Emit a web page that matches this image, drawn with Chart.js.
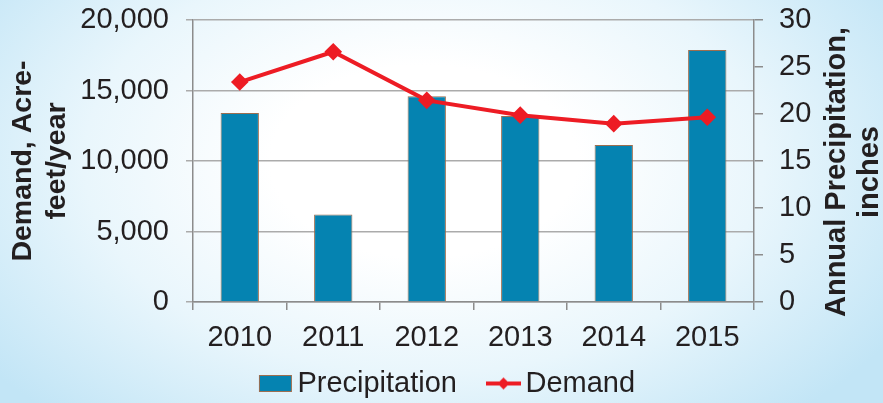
<!DOCTYPE html>
<html>
<head>
<meta charset="utf-8">
<script src="https://cdn.jsdelivr.net/npm/chart.js@4.4.1/dist/chart.umd.min.js"></script>
<style>
  html, body { margin: 0; padding: 0; }
  body {
    width: 883px; height: 403px; overflow: hidden;
    background: radial-gradient(ellipse 62% 85% at 48% 40%, #ffffff 0%, #ffffff 28%, #e9f6fc 62%, #c2e5f6 100%);
  }
  canvas { display: block; }
</style>
</head>
<body>
<canvas id="chart" width="883" height="403"></canvas>
<script>
const years = ['2010', '2011', '2012', '2013', '2014', '2015']
const precipitation = [20.1, 9.3, 21.9, 19.8, 16.7, 26.8]
const demand = [15600, 17750, 14300, 13250, 12650, 13100]

const leftTitle = ['Demand, Acre-', 'feet/year']
const rightTitle = ['Annual Precipitation,', 'inches']

const FONT = '"Liberation Sans", Arial, sans-serif'
const TEXT = '#231F20'
const BLUE = '#0583B1'
const BROWN = '#9C6E50'
const RED = '#ED1C24'
const AXIS = '#8C8C8C'
const GRID = '#ABABAB'
const BOX = 51   // legend symbol slot width

// legend swatches, drawn at the right side of a slot centred on the legend box
function barSwatch() {
    const c = document.createElement('canvas')
    c.width = 2 * (BOX / 2 + 10); c.height = 17
    const g = c.getContext('2d')
    const x0 = c.width - 33.5
    g.fillStyle = BLUE
    g.fillRect(x0, 0.5, 32, 16)
    g.strokeStyle = BROWN
    g.lineWidth = 1
    g.strokeRect(x0, 0.5, 32, 16)
    return c
}
function lineSwatch() {
    const c = document.createElement('canvas')
    c.width = 2 * (BOX / 2 + 10); c.height = 14
    const g = c.getContext('2d')
    const x1 = c.width, x0 = x1 - 35, xm = (x0 + x1) / 2
    g.strokeStyle = RED
    g.lineWidth = 4
    g.beginPath(); g.moveTo(x0, 7); g.lineTo(x1, 7); g.stroke()
    g.fillStyle = RED
    g.beginPath(); g.moveTo(xm, 1); g.lineTo(xm + 6, 7); g.lineTo(xm, 13); g.lineTo(xm - 6, 7); g.closePath(); g.fill()
    return c
}

const rightTitlePlugin = {
    id: 'rightTitle',
    afterDraw(chart) {
        const ctx = chart.ctx
        ctx.save()
        ctx.font = 'bold 29px ' + FONT
        ctx.fillStyle = TEXT
        ctx.textAlign = 'center'
        ctx.textBaseline = 'middle'
        ctx.translate(837, 172)
        ctx.rotate(-Math.PI / 2)
        rightTitle.forEach((t, i) => ctx.fillText(t, 0, i * 33))
        ctx.restore()
    }
}

function noVerticalPadding(scale) {
    scale.paddingTop = 0
    scale.paddingBottom = 0
}

const ctx = document.getElementById('chart')

new Chart(ctx, {
    data: {
        labels: years,
        datasets: [{
            type: 'bar',
            label: 'Precipitation',
            data: precipitation,
            yAxisID: 'y1',
            backgroundColor: BLUE,
            borderColor: BROWN,
            borderWidth: 1,
            barPercentage: 0.41,
            categoryPercentage: 1,
            order: 2
        }, {
            type: 'line',
            label: 'Demand',
            data: demand,
            yAxisID: 'y',
            borderColor: RED,
            backgroundColor: RED,
            borderWidth: 4,
            pointStyle: 'rectRot',
            pointRadius: 6,
            pointHoverRadius: 6,
            tension: 0,
            order: 1
        }]
    },
    options: {
        responsive: false,
        animation: false,
        layout: { padding: { top: 20, left: 0, right: 16, bottom: -5 } },
        plugins: {
            tooltip: { enabled: false },
            legend: {
                position: 'bottom',
                labels: {
                    font: { family: FONT, size: 29 },
                    color: TEXT,
                    usePointStyle: true,
                    pointStyleWidth: BOX,
                    padding: 3,
                    generateLabels: () => [
                        { text: 'Precipitation', pointStyle: barSwatch(), fontColor: TEXT, datasetIndex: 0, lineWidth: 0 },
                        { text: 'Demand', pointStyle: lineSwatch(), fontColor: TEXT, datasetIndex: 1, lineWidth: 0 }
                    ]
                }
            }
        },
        scales: {
            x: {
                offset: true,
                grid: { offset: true, drawOnChartArea: false, color: AXIS, lineWidth: 1.5, tickLength: 8 },
                border: { color: AXIS, width: 1.5 },
                ticks: { font: { family: FONT, size: 29 }, color: TEXT, padding: 11, maxRotation: 0 },
                afterFit(scale) { scale.height = 64 }
            },
            y: {
                position: 'left',
                min: 0,
                max: 20000,
                grid: { color: GRID, lineWidth: 1.5, tickLength: 7 },
                border: { color: AXIS, width: 1.5 },
                ticks: {
                    stepSize: 5000,
                    font: { family: FONT, size: 29 },
                    color: TEXT,
                    padding: 17,
                    callback: v => v.toLocaleString('en-US')
                },
                title: {
                    display: true,
                    text: leftTitle,
                    font: { family: FONT, size: 28.5, weight: 'bold', lineHeight: 1.2 },
                    color: TEXT,
                    padding: { top: 6, bottom: 0 }
                },
                afterFit(scale) { scale.width = 193; noVerticalPadding(scale) }
            },
            y1: {
                position: 'right',
                min: 0,
                max: 30,
                grid: { drawOnChartArea: false, color: AXIS, lineWidth: 1.5, tickLength: 9 },
                border: { color: AXIS, width: 1.5 },
                ticks: {
                    stepSize: 5,
                    font: { family: FONT, size: 29 },
                    color: TEXT,
                    padding: 16
                },
                afterFit(scale) { scale.width = 113; noVerticalPadding(scale) }
            }
        }
    },
    plugins: [rightTitlePlugin]
})
</script>
</body>
</html>
